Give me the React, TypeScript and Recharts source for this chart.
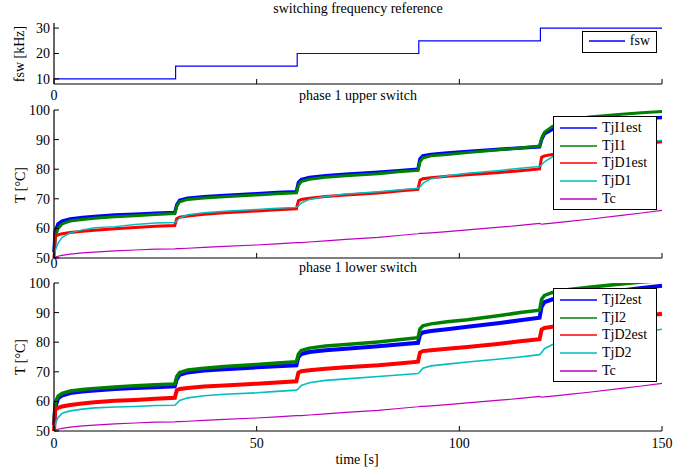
import React from 'react';
import { LineChart, Line, XAxis, YAxis, Legend } from 'recharts';

// switching frequency steps
const fswTime = [0, 30, 60, 90, 120, 150];
const fswKHz = [10, 15, 20, 25, 30, 30];

// sample times for the temperature traces [s]
const time = [
  0, 0.3, 1, 2, 4, 7, 10, 15, 20, 25, 29.8, 30.3, 31, 33, 37, 42, 50, 55, 59.8,
  60.3, 61, 63, 67, 72, 80, 85, 89.8, 90.3, 91, 93, 97, 102, 110, 115, 119.8,
  120.3, 121, 123, 127, 132, 140, 145, 150,
];

// phase 1 upper switch
const tjI1est = [
  52, 59, 61.5, 62.5, 63.2, 63.7, 64, 64.5, 64.8, 65.1, 65.4, 68, 69.5, 70.2, 70.7, 71.1, 71.7, 72.1, 72.4,
  75.5, 76.5, 77.2, 77.8, 78.3, 79, 79.5, 80, 83.5, 84.5, 85, 85.5, 86, 86.7, 87.2, 87.6,
  90, 92, 93.5, 94.8, 95.8, 96.7, 97.1, 97.5,
];
const tjI1 = [
  52, 57, 60, 61.5, 62.5, 63, 63.4, 63.9, 64.3, 64.7, 65, 67.5, 69, 69.8, 70.3, 70.7, 71.3, 71.7, 72,
  74.5, 75.8, 76.6, 77.3, 77.8, 78.5, 79.1, 79.6, 82.5, 83.8, 84.5, 85, 85.6, 86.6, 87.2, 87.8,
  90.5, 92.5, 94.5, 96.3, 97.6, 98.6, 99.1, 99.5,
];
const tjD1est = [
  50, 57.3, 57.8, 58.2, 58.6, 59, 59.4, 59.9, 60.3, 60.7, 61, 63.3, 63.8, 64.2, 64.8, 65.3, 65.9, 66.3, 66.6,
  69.3, 69.8, 70.2, 70.8, 71.3, 72, 72.6, 73.2, 76.3, 76.8, 77.1, 77.6, 78.1, 78.9, 79.5, 80.1,
  84, 84.5, 85, 85.8, 86.6, 87.8, 88.5, 89.3,
];
const tjD1 = [
  50, 52.5, 55, 57, 58.5, 59.5, 60.2, 60.6, 61.3, 61.8, 62, 62.5, 63.5, 64.6, 65.3, 65.8, 66.4, 66.8, 67.1,
  67.6, 68.6, 69.8, 70.8, 71.6, 72.4, 73, 73.6, 74, 75.2, 76.8, 77.8, 78.6, 79.6, 80.3, 80.9,
  81.5, 82.5, 84.2, 85.8, 86.8, 88.2, 89, 89.8,
];

// phase 1 lower switch
const tjI2est = [
  52, 58, 61, 62, 62.8, 63.3, 63.7, 64.2, 64.5, 64.8, 65.1, 67.5, 69, 69.8, 70.4, 70.9, 71.5, 71.9, 72.2,
  75, 76, 76.7, 77.3, 77.8, 78.6, 79.2, 79.8, 82.5, 83.3, 83.8, 84.4, 85.2, 86.5, 87.4, 88.3,
  92, 93.5, 94.5, 95.5, 96.3, 97.5, 98.3, 99.1,
];
const tjI2 = [
  53, 59.5, 61.8, 62.7, 63.5, 64, 64.4, 64.9, 65.3, 65.6, 65.9, 68.5, 69.8, 70.6, 71.2, 71.8, 72.5, 73, 73.4,
  76, 77.2, 78, 78.7, 79.2, 80.1, 80.8, 81.5, 84.5, 85.5, 86.2, 86.9, 87.6, 89, 90, 90.8,
  94.5, 95.8, 96.8, 97.8, 98.6, 99.7, 100.3, 100.8,
];
const tjD2est = [
  50, 57.3, 57.8, 58.3, 58.8, 59.3, 59.7, 60.2, 60.5, 60.9, 61.2, 63.8, 64.2, 64.5, 65, 65.4, 66, 66.4, 66.8,
  69.7, 70.2, 70.5, 71, 71.5, 72.2, 72.8, 73.4, 76.5, 77, 77.3, 77.8, 78.4, 79.5, 80.3, 81,
  84.3, 84.8, 85.2, 85.9, 86.7, 87.9, 88.7, 89.6,
];
const tjD2 = [
  50, 52.5, 54.5, 56, 56.8, 57.4, 57.8, 58.1, 58.3, 58.6, 58.7, 59.3, 60.3, 61.2, 61.9, 62.4, 62.9, 63.4, 63.8,
  64.3, 65.4, 66.3, 67.1, 67.6, 68.4, 68.9, 69.4, 70, 71.2, 72, 72.6, 73.3, 74.3, 75, 75.8,
  76.5, 77.8, 79.2, 80.4, 81.3, 82.5, 83.4, 84.4,
];

// case temperature (same in both plots)
const tc = [
  50, 50.3, 50.6, 50.9, 51.3, 51.7, 52, 52.4, 52.7, 53, 53.1, 53.2, 53.2, 53.3, 53.6, 53.9, 54.4, 54.8, 55.2,
  55.2, 55.2, 55.4, 55.8, 56.3, 57, 57.6, 58.2, 58.3, 58.3, 58.5, 58.9, 59.5, 60.4, 61, 61.7,
  61.4, 61.5, 61.8, 62.4, 63.1, 64.4, 65.2, 66.1,
];

const xTicks = [0, 50, 100, 150];
const fswTicks = [10, 20, 30];
const tTicks = [50, 60, 70, 80, 90, 100];

const FONT = '"Liberation Serif", "DejaVu Serif", serif';
const W = 699;
const PLOT_RIGHT = 37;

const fswData = fswTime.map((t, i) => ({ t, fsw: fswKHz[i] }));
const upperData = time.map((t, i) => ({
  t, TjI1est: tjI1est[i], TjI1: tjI1[i], TjD1est: tjD1est[i], TjD1: tjD1[i], Tc: tc[i],
}));
const lowerData = time.map((t, i) => ({
  t, TjI2est: tjI2est[i], TjI2: tjI2[i], TjD2est: tjD2est[i], TjD2: tjD2[i], Tc: tc[i],
}));

const tickStyle = { fontSize: 14, fill: '#000', fontFamily: FONT };

type Series = { key: string; color: string; width: number };

const LegendBox = (props: any) => {
  const { payload, order, lineLen, rowH, padTop } = props;
  const items = order
    .map((k: string) => payload.find((p: any) => p.value === k))
    .filter(Boolean);
  return (
    <div
      style={{
        background: '#fff',
        border: '1.5px solid #000',
        padding: `${padTop}px 6px 2px 6px`,
        fontFamily: FONT,
        fontSize: 14,
        color: '#000',
      }}
    >
      {items.map((p: any) => (
        <div key={p.value} style={{ display: 'flex', alignItems: 'center', height: rowH }}>
          <svg width={lineLen} height={4} style={{ marginRight: 5 }}>
            <line x1={0} x2={lineLen} y1={2} y2={2} stroke={p.color} strokeWidth={1.5} />
          </svg>
          <span>{p.value}</span>
        </div>
      ))}
    </div>
  );
};

const upperSeries: Series[] = [
  { key: 'TjI1est', color: '#0000ff', width: 3.5 },
  { key: 'TjI1', color: '#008000', width: 3 },
  { key: 'TjD1est', color: '#ff0000', width: 3 },
  { key: 'TjD1', color: '#00bfbf', width: 1.5 },
  { key: 'Tc', color: '#bf00bf', width: 1.2 },
];
const lowerSeries: Series[] = [
  { key: 'TjI2est', color: '#0000ff', width: 4 },
  { key: 'TjI2', color: '#008000', width: 3.5 },
  { key: 'TjD2est', color: '#ff0000', width: 4 },
  { key: 'TjD2', color: '#00bfbf', width: 1.6 },
  { key: 'Tc', color: '#bf00bf', width: 1.2 },
];

// four-sided box with inward ticks, MATLAB style
const boxAxes = (
  domain: [number, number],
  yTicks: number[],
  xAxisHeight: number,
  xTickMargin: number,
  xLabels: boolean,
) => [
  <XAxis
    key="xb"
    xAxisId="b"
    dataKey="t"
    type="number"
    domain={[0, 150]}
    ticks={xTicks}
    interval={0}
    height={xAxisHeight}
    tickSize={-5}
    tickMargin={xTickMargin}
    tick={tickStyle}
    tickFormatter={(v: number) => (xLabels || v === 0 ? String(v) : '')}
    axisLine={{ stroke: '#000', strokeWidth: 1.2 }}
    tickLine={{ stroke: '#000' }}
  />,
  <XAxis
    key="xt"
    xAxisId="tp"
    orientation="top"
    dataKey="t"
    type="number"
    domain={[0, 150]}
    ticks={xTicks}
    interval={0}
    height={0}
    tickSize={-5}
    tick={false}
    axisLine={{ stroke: '#000', strokeWidth: 1.2 }}
    tickLine={{ stroke: '#000' }}
  />,
  <YAxis
    key="yl"
    yAxisId="l"
    type="number"
    domain={domain}
    allowDataOverflow
    ticks={yTicks}
    interval={0}
    width={54}
    tickSize={-5}
    tickMargin={9}
    tick={tickStyle}
    axisLine={{ stroke: '#000', strokeWidth: 1.2 }}
    tickLine={{ stroke: '#000' }}
  />,
  <YAxis
    key="yr"
    yAxisId="r"
    orientation="right"
    type="number"
    domain={domain}
    allowDataOverflow
    ticks={yTicks}
    interval={0}
    width={0}
    tickSize={-5}
    tick={false}
    axisLine={{ stroke: '#000', strokeWidth: 1.2 }}
    tickLine={{ stroke: '#000' }}
  />,
];

// legend placed inside the plot without taking space from it
const InsideLegend = ({ order, left, top, width, lineLen, rowH, padTop }: any) => (
  <Legend
    layout="vertical"
    verticalAlign="middle"
    align="center"
    wrapperStyle={{ left, top, width, right: 'auto', bottom: 'auto', margin: 0 }}
    content={(p: any) => (
      <LegendBox payload={p.payload} order={order} lineLen={lineLen} rowH={rowH} padTop={padTop} />
    )}
  />
);

const TempPanel = ({ data, series, top, height, marginTop, xAxisHeight, xTickMargin, xLabels, legendTop }: any) => (
  <div style={{ position: 'absolute', left: 0, top }}>
    <LineChart width={W} height={height} data={data} margin={{ top: marginTop, right: PLOT_RIGHT, bottom: 0, left: 0 }}>
      {boxAxes([50, 100], tTicks, xAxisHeight, xTickMargin, xLabels)}
      {series.map((s: Series) => (
        <Line
          key={s.key}
          xAxisId="b"
          yAxisId="l"
          dataKey={s.key}
          name={s.key}
          type="linear"
          stroke={s.color}
          strokeWidth={s.width}
          dot={false}
          isAnimationActive={false}
        />
      ))}
      {InsideLegend({
        order: series.map((s: Series) => s.key),
        left: 553,
        top: legendTop,
        width: 104,
        lineLen: 37,
        rowH: 17.7,
        padTop: 2,
      })}
    </LineChart>
  </div>
);

const text = (s: string, x: number, y: number, extra: any = {}) => (
  <div
    style={{
      position: 'absolute',
      left: x,
      top: y,
      transform: 'translate(-50%, -50%)',
      whiteSpace: 'nowrap',
      fontSize: 14,
      ...extra,
    }}
  >
    {s}
  </div>
);

export default function App() {
  return (
    <div
      style={{
        position: 'absolute',
        left: 0,
        top: 0,
        width: W,
        height: 475,
        background: '#fff',
        fontFamily: FONT,
        color: '#000',
        overflow: 'hidden',
      }}
    >
      <div style={{ position: 'absolute', left: 0, top: 0 }}>
        <LineChart width={W} height={104} data={fswData} margin={{ top: 23, right: PLOT_RIGHT, bottom: 0, left: 0 }}>
          {boxAxes([8, 32], fswTicks, 20, 11, false)}
          <Line
            xAxisId="b"
            yAxisId="l"
            dataKey="fsw"
            name="fsw"
            type="stepAfter"
            stroke="#0000ff"
            strokeWidth={1.2}
            dot={false}
            isAnimationActive={false}
          />
          {InsideLegend({ order: ['fsw'], left: 582, top: 31, width: 75, lineLen: 36, rowH: 18, padTop: 0 })}
        </LineChart>
      </div>

      <TempPanel
        data={upperData}
        series={upperSeries}
        top={100}
        height={170}
        marginTop={10}
        xAxisHeight={12}
        xTickMargin={5}
        xLabels={false}
        legendTop={16}
      />
      <TempPanel
        data={lowerData}
        series={lowerSeries}
        top={270}
        height={205}
        marginTop={13}
        xAxisHeight={44}
        xTickMargin={12}
        xLabels={true}
        legendTop={18}
      />

      {text('switching frequency reference', 358, 9)}
      {text('phase 1 upper switch', 358, 96)}
      {text('phase 1 lower switch', 358, 268)}
      {text('time [s]', 357, 460)}
      {text('fsw [kHz]', 20, 54, { transform: 'translate(-50%, -50%) rotate(-90deg)' })}
      {text('T [°C]', 21, 185, { transform: 'translate(-50%, -50%) rotate(-90deg)' })}
      {text('T [°C]', 21, 357, { transform: 'translate(-50%, -50%) rotate(-90deg)' })}
    </div>
  );
}
